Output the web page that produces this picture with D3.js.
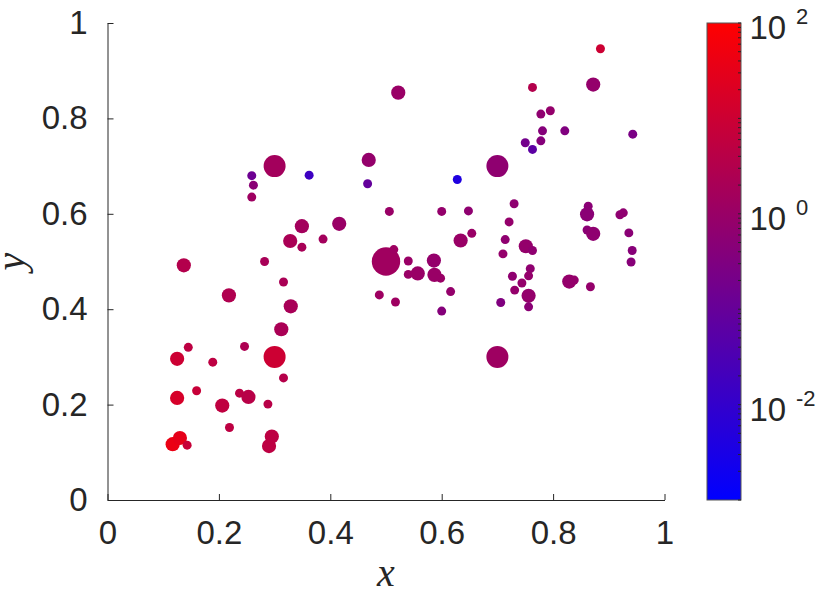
<!DOCTYPE html>
<html>
<head>
<meta charset="utf-8">
<script src="https://cdn.jsdelivr.net/npm/d3@7"></script>
<style>
  body { margin: 0; background: #fff; }
  svg { display: block; }
  .axis text { font-family: "Liberation Sans", Arial, sans-serif; font-size: 33px; fill: #262626; }
  .axis path, .axis line { stroke: #262626; stroke-width: 1px; }
</style>
</head>
<body>
<div id="chart"></div>
<script>
// scatter values
var xs = [0.117, 0.130, 0.143, 0.290, 0.295, 0.219, 0.125, 0.160, 0.206, 0.237,
  0.253, 0.288, 0.125, 0.145, 0.189, 0.246, 0.300, 0.316, 0.312, 0.329,
  0.316, 0.218, 0.137, 0.282, 0.328, 0.349, 0.349, 0.387, 0.416, 0.259,
  0.262, 0.259, 0.300, 0.362, 0.467, 0.469, 0.522, 0.506, 0.500, 0.514,
  0.540, 0.540, 0.557, 0.586, 0.587, 0.598, 0.616, 0.600, 0.488, 0.517,
  0.600, 0.648, 0.634, 0.654, 0.628, 0.700, 0.700, 0.706, 0.710, 0.714,
  0.721, 0.730, 0.751, 0.763, 0.759, 0.756, 0.727, 0.744, 0.731, 0.756,
  0.756, 0.829, 0.838, 0.867, 0.863, 0.861, 0.861, 0.872, 0.920, 0.926,
  0.936, 0.942, 0.940, 0.750, 0.763, 0.778, 0.781, 0.821, 0.943, 0.778,
  0.795, 0.763, 0.872, 0.885]

var ys = [0.117, 0.130, 0.115, 0.113, 0.133, 0.152, 0.214, 0.229, 0.198, 0.224,
  0.216, 0.201, 0.296, 0.320, 0.289, 0.322, 0.300, 0.256, 0.358, 0.406,
  0.457, 0.429, 0.492, 0.500, 0.543, 0.530, 0.574, 0.547, 0.579, 0.635,
  0.660, 0.680, 0.700, 0.681, 0.663, 0.713, 0.854, 0.605, 0.500, 0.525,
  0.501, 0.473, 0.475, 0.502, 0.472, 0.465, 0.437, 0.396, 0.430, 0.415,
  0.605, 0.606, 0.544, 0.559, 0.672, 0.700, 0.300, 0.414, 0.516, 0.546,
  0.583, 0.621, 0.532, 0.523, 0.485, 0.470, 0.469, 0.455, 0.440, 0.428,
  0.405, 0.458, 0.461, 0.447, 0.616, 0.599, 0.566, 0.558, 0.598, 0.602,
  0.560, 0.523, 0.499, 0.749, 0.735, 0.753, 0.774, 0.774, 0.767, 0.809,
  0.816, 0.865, 0.871, 0.946]

// marker areas (small 20, medium 50, large 120, largest 200)
var sizes = [50, 50, 20, 50, 50, 20, 50, 20, 50, 20,
  50, 20, 50, 20, 20, 20, 120, 20, 50, 50,
  20, 50, 50, 20, 50, 20, 50, 20, 50, 20,
  20, 20, 120, 20, 20, 50, 50, 20, 200, 20,
  20, 20, 50, 50, 50, 20, 20, 20, 20, 20,
  20, 20, 50, 20, 20, 120, 120, 20, 20, 20,
  20, 20, 50, 20, 20, 20, 20, 20, 20, 50,
  20, 50, 20, 20, 20, 50, 20, 50, 20, 20,
  20, 20, 20, 20, 20, 20, 20, 20, 20, 20,
  20, 20, 50, 20]

// colour values (log colour bar)
var cvals = [40, 32, 8, 5, 5, 5, 16, 8, 5.6, 4.5,
  4, 4, 10, 5, 5, 2.5, 10, 3.5, 2.2, 2,
  2.2, 2.8, 3.2, 2, 2.2, 2, 1.6, 1.6, 1, 1.25,
  0.5, 0.14, 1.6, 0.016, 0.09, 0.8, 1, 1, 1.4, 1.25,
  1, 1, 1, 0.8, 1, 1, 0.8, 0.4, 1.25, 1.25,
  0.8, 0.63, 1, 1, 0.004, 0.63, 1.25, 0.32, 0.8, 0.63,
  0.8, 0.63, 0.8, 0.63, 0.63, 0.8, 0.63, 0.8, 0.8, 0.8,
  0.5, 0.8, 0.8, 0.8, 0.5, 0.5, 0.5, 0.63, 0.63, 0.63,
  0.5, 0.45, 0.45, 0.18, 0.063, 0.4, 0.4, 0.32, 0.25, 0.63,
  0.8, 3.2, 0.8, 10]

var xTicks = [0, 0.2, 0.4, 0.6, 0.8, 1]
var yTicks = [0, 0.2, 0.4, 0.6, 0.8, 1]
var cbRange = [1e-3, 1e2]
var cbLabelExps = [-2, 0, 2]

var width = 822
var height = 593
var margin = { top: 23, right: 157.5, bottom: 93, left: 107.5 }

var svg = d3.select('#chart').append('svg')
  .attr('width', width)
  .attr('height', height)

var xScale = d3.scaleLinear()
  .domain([0, 1])
  .range([margin.left, width - margin.right])

var yScale = d3.scaleLinear()
  .domain([0, 1])
  .range([height - margin.bottom, margin.top])

var cScale = d3.scaleLog()
  .domain(cbRange)
  .range(['#0000ff', '#ff0000'])
  .interpolate(d3.interpolateRgb)

var rScale = d3.scaleSqrt()
  .domain([0, 200])
  .range([0, 14.2])

var fmt = d => String(+d.toFixed(1))

// axes, ticks pointing in
svg.append('g')
  .attr('class', 'axis')
  .attr('transform', 'translate(0,' + yScale(0) + ')')
  .call(d3.axisBottom(xScale).tickValues(xTicks).tickFormat(fmt)
    .tickSizeInner(-6).tickSizeOuter(0).tickPadding(21))

svg.append('g')
  .attr('class', 'axis')
  .attr('transform', 'translate(' + xScale(0) + ',0)')
  .call(d3.axisLeft(yScale).tickValues(yTicks).tickFormat(fmt)
    .tickSizeInner(-6).tickSizeOuter(0).tickPadding(20))

// points
svg.append('g')
  .selectAll('circle')
  .data(d3.range(xs.length))
  .join('circle')
  .attr('cx', i => xScale(xs[i]))
  .attr('cy', i => yScale(ys[i]))
  .attr('r', i => rScale(sizes[i]))
  .attr('fill', i => cScale(cvals[i]))

// axis labels
svg.append('text')
  .attr('x', (xScale(0) + xScale(1)) / 2)
  .attr('y', 586)
  .attr('text-anchor', 'middle')
  .style('font-family', '"Liberation Serif", "Times New Roman", serif')
  .style('font-style', 'italic')
  .style('font-size', '40px')
  .style('fill', '#262626')
  .text('x')

svg.append('text')
  .attr('transform', 'translate(24,' + (yScale(0) + yScale(1)) / 2 + ') rotate(-90)')
  .attr('text-anchor', 'middle')
  .style('font-family', '"Liberation Serif", "Times New Roman", serif')
  .style('font-style', 'italic')
  .style('font-size', '40px')
  .style('fill', '#262626')
  .text('y')

// colour bar
var cbX = 707
var cbW = 34
var cbScale = d3.scaleLog()
  .domain(cbRange)
  .range([yScale(0), yScale(1)])

var grad = svg.append('defs').append('linearGradient')
  .attr('id', 'cbgrad')
  .attr('x1', 0).attr('y1', 1).attr('x2', 0).attr('y2', 0)
grad.append('stop').attr('offset', '0%').attr('stop-color', cScale(cbRange[0]))
grad.append('stop').attr('offset', '100%').attr('stop-color', cScale(cbRange[1]))

svg.append('rect')
  .attr('x', cbX)
  .attr('y', cbScale(cbRange[1]))
  .attr('width', cbW)
  .attr('height', cbScale(cbRange[0]) - cbScale(cbRange[1]))
  .attr('fill', 'url(#cbgrad)')
  .attr('stroke', '#555')
  .attr('stroke-width', 1)

// major and minor ticks on the right edge
var cbTicks = []
for (var e = -3; e < 2; e++) {
  for (var k = 1; k < 10; k++) cbTicks.push(k * Math.pow(10, e))
}
cbTicks.push(100)

svg.append('g')
  .selectAll('line')
  .data(cbTicks)
  .join('line')
  .attr('x1', cbX + cbW - 3)
  .attr('x2', cbX + cbW)
  .attr('y1', d => cbScale(d))
  .attr('y2', d => cbScale(d))
  .attr('stroke', '#262626')
  .attr('stroke-width', 1)

var cbLabels = svg.append('g')
  .selectAll('g')
  .data(cbLabelExps)
  .join('g')
  .attr('transform', d => 'translate(0,' + cbScale(Math.pow(10, d)) + ')')
  .style('font-family', '"Liberation Sans", Arial, sans-serif')
  .style('fill', '#262626')

cbLabels.append('text')
  .attr('x', 749.5)
  .attr('y', 16)
  .style('font-size', '33px')
  .text('10')

cbLabels.append('text')
  .attr('x', 796)
  .attr('y', 1)
  .style('font-size', '22px')
  .text(d => String(d))
</script>
</body>
</html>
